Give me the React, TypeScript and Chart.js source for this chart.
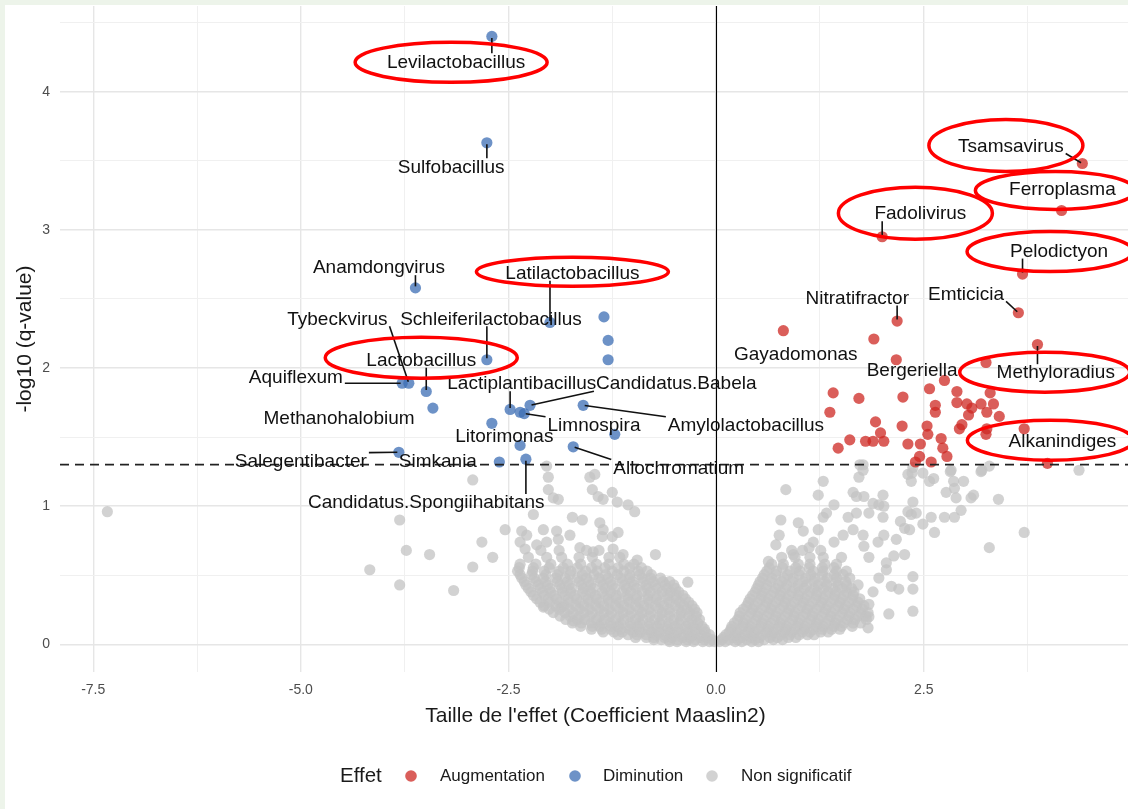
import { useEffect, useRef } from 'react';
import Chart from 'chart.js/auto';

const FONT = '"Liberation Sans", Arial, Helvetica, sans-serif';

// ---------- axes ----------
const xMajorTicks = [-7.5, -5, -2.5, 0, 2.5, 5];
const xMinorTicks = [-6.25, -3.75, -1.25, 1.25, 3.75];
const yMajorTicks = [0, 1, 2, 3, 4];
const yMinorTicks = [0.5, 1.5, 2.5, 3.5, 4.5];
const xRange = [-7.9, 4.96];
const yRange = [-0.2, 4.62];
const qThreshold = 1.301;

const xTitle = "Taille de l'effet (Coefficient Maaslin2)";
const yTitle = '-log10 (q-value)';
const legendTitle = 'Effet';
const legendNames = ['Augmentation', 'Diminution', 'Non significatif'];

// ---------- data ----------
const upPoints: [number, number][] = [
  [4.41, 3.48], [4.16, 3.14], [2.0, 2.95], [3.69, 2.68], [0.81, 2.27], [2.18, 2.34], [1.9, 2.21],
  [2.17, 2.06], [3.64, 2.4], [3.87, 2.17], [3.25, 2.04], [2.75, 1.91], [2.57, 1.85], [2.9, 1.83],
  [3.3, 1.82], [1.41, 1.82], [1.72, 1.78], [2.25, 1.79], [2.64, 1.73], [2.9, 1.75], [3.02, 1.74],
  [3.19, 1.74], [3.34, 1.74], [3.08, 1.71], [2.64, 1.68], [3.26, 1.68], [3.04, 1.66], [3.41, 1.65],
  [1.37, 1.68], [1.92, 1.61], [2.96, 1.59], [2.54, 1.58], [2.24, 1.58], [1.98, 1.53], [2.93, 1.56],
  [2.55, 1.52], [3.26, 1.56], [3.71, 1.56], [3.25, 1.52], [1.61, 1.48], [1.8, 1.47], [1.89, 1.47],
  [2.02, 1.47], [1.47, 1.42], [2.31, 1.45], [2.46, 1.45], [2.71, 1.49], [2.73, 1.42], [2.78, 1.36],
  [2.45, 1.36], [2.4, 1.32], [2.59, 1.32], [3.99, 1.31],
];

const downPoints: [number, number][] = [
  [-2.7, 4.4], [-2.76, 3.63], [-3.62, 2.58], [-2.0, 2.33], [-1.35, 2.37], [-1.3, 2.2], [-1.3, 2.06],
  [-2.76, 2.06], [-3.78, 1.89], [-3.7, 1.89], [-3.49, 1.83], [-3.41, 1.71], [-2.48, 1.7], [-2.36, 1.68],
  [-2.31, 1.67], [-2.24, 1.73], [-1.6, 1.73], [-2.7, 1.6], [-1.22, 1.52], [-2.36, 1.44], [-1.72, 1.43],
  [-3.82, 1.39], [-2.61, 1.32], [-2.29, 1.34],
];

const nsScatter: [number, number][] = [
  [-7.33, 0.96], [-3.81, 0.9], [-3.73, 0.68], [-3.45, 0.65], [-4.17, 0.54], [-3.81, 0.43], [-3.16, 0.39],
  [-2.93, 1.19], [-2.82, 0.74], [-2.93, 0.56], [-2.69, 0.63], [-2.54, 0.83], [-2.2, 0.94], [-2.02, 1.21],
  [-2.02, 1.12], [-1.96, 1.06], [-1.9, 1.05], [-1.52, 1.21], [-1.46, 1.23], [-1.49, 1.12], [-1.42, 1.07],
  [-1.36, 1.05], [-1.25, 1.1], [-1.19, 1.03], [-1.06, 1.01], [-0.98, 0.96], [-1.73, 0.92], [-1.61, 0.9],
  [-1.4, 0.88], [-1.36, 0.83], [-1.25, 0.78], [-1.18, 0.81], [-1.37, 0.78], [-1.76, 0.79], [-1.92, 0.82],
  [-2.08, 0.83], [-2.34, 0.82], [-2.28, 0.79], [-2.36, 0.74], [-2.3, 0.69], [-2.16, 0.72], [-2.04, 0.74],
  [-1.9, 0.76], [-1.64, 0.7], [-1.48, 0.67], [-1.24, 0.69], [-1.12, 0.65], [-0.95, 0.61], [-0.73, 0.65],
  [-2.08, 0.27], [-1.72, 0.17], [-1.86, 0.27], [-0.34, 0.45], [-2.04, 1.29],
  [4.37, 1.26], [3.71, 0.81], [3.29, 0.7], [3.4, 1.05], [3.1, 1.08], [3.07, 1.06], [3.19, 1.25],
  [3.29, 1.29], [2.98, 1.18], [2.86, 1.18], [2.87, 1.13], [2.77, 1.1], [2.89, 1.06], [2.95, 0.97],
  [2.87, 0.92], [2.75, 0.92], [2.63, 0.81], [2.59, 0.92], [2.49, 0.87], [2.57, 1.18], [2.62, 1.2],
  [2.37, 1.03], [2.31, 0.96], [2.41, 0.95], [2.35, 0.94], [2.22, 0.89], [2.27, 0.84], [2.33, 0.83],
  [2.31, 1.23], [2.35, 1.18], [2.49, 1.24], [2.37, 1.28], [2.83, 1.26], [2.27, 0.65], [2.37, 0.49],
  [2.37, 0.4], [2.2, 0.4], [2.37, 0.24], [2.08, 0.22], [2.14, 0.64], [2.05, 0.59], [2.01, 1.08],
  [1.96, 1.01], [2.02, 1.0], [1.89, 1.02], [1.84, 0.95], [2.01, 0.92], [1.78, 1.07], [1.65, 1.1],
  [1.69, 1.07], [1.72, 1.21], [1.77, 1.26], [1.77, 1.3], [1.42, 1.01], [1.29, 1.18], [1.23, 1.08],
  [0.84, 1.12], [0.78, 0.9], [0.99, 0.88], [1.05, 0.82], [0.76, 0.79], [0.72, 0.72], [0.63, 0.6],
  [1.29, 0.92], [1.33, 0.95], [1.23, 0.83], [1.59, 0.92], [1.69, 0.95], [1.65, 0.83], [1.77, 0.79],
  [1.53, 0.79], [1.42, 0.74], [1.17, 0.74], [1.12, 0.7], [0.93, 0.65], [1.78, 0.71], [1.95, 0.74],
  [2.02, 0.79], [2.17, 0.76], [1.84, 0.63], [2.05, 0.54], [1.96, 0.48], [2.11, 0.42], [1.89, 0.38],
  [1.84, 0.29], [1.84, 0.2], [1.83, 0.12], [1.73, 1.3], [2.36, 1.24], [2.82, 1.25], [3.2, 1.26],
];

// dense cloud near the origin, read row by row: [y, x values]
const nsLeftRows: [number, number[]][] = [
  [0.02, [-0.56, -0.47, -0.36, -0.27, -0.16, -0.08, -0.02]],
  [0.035, [-0.75, -0.66, -0.57, -0.46, -0.35, -0.25, -0.14, -0.05]],
  [0.05, [-0.97, -0.84, -0.75, -0.62, -0.53, -0.4, -0.31, -0.19, -0.11]],
  [0.07, [-1.18, -1.06, -0.95, -0.84, -0.73, -0.62, -0.51, -0.4, -0.29, -0.18, -0.08]],
  [0.09, [-1.36, -1.23, -1.13, -1.0, -0.91, -0.78, -0.69, -0.56, -0.47, -0.34, -0.25, -0.13]],
  [0.11, [-1.5, -1.38, -1.27, -1.15, -1.04, -0.92, -0.81, -0.69, -0.58, -0.46, -0.35, -0.24, -0.14]],
  [0.13, [-1.63, -1.49, -1.4, -1.26, -1.17, -1.03, -0.94, -0.81, -0.71, -0.58, -0.49, -0.36, -0.27, -0.17]],
  [0.155, [-1.73, -1.62, -1.5, -1.38, -1.27, -1.15, -1.03, -0.92, -0.8, -0.68, -0.57, -0.45, -0.33, -0.22]],
  [0.18, [-1.81, -1.67, -1.58, -1.44, -1.34, -1.21, -1.11, -0.97, -0.88, -0.74, -0.65, -0.51, -0.42, -0.29, -0.2]],
  [0.205, [-1.88, -1.76, -1.64, -1.52, -1.4, -1.28, -1.16, -1.04, -0.92, -0.8, -0.68, -0.56, -0.44, -0.33, -0.24]],
  [0.23, [-1.96, -1.82, -1.72, -1.59, -1.49, -1.35, -1.26, -1.12, -1.02, -0.89, -0.79, -0.65, -0.56, -0.42, -0.32, -0.23]],
  [0.255, [-2.01, -1.89, -1.77, -1.65, -1.53, -1.41, -1.29, -1.17, -1.05, -0.93, -0.81, -0.69, -0.57, -0.45, -0.35, -0.26]],
  [0.28, [-2.07, -1.93, -1.83, -1.69, -1.59, -1.45, -1.35, -1.21, -1.11, -0.97, -0.87, -0.73, -0.63, -0.49, -0.39, -0.29]],
  [0.305, [-2.12, -2.0, -1.88, -1.76, -1.64, -1.52, -1.4, -1.28, -1.16, -1.04, -0.92, -0.8, -0.68, -0.56, -0.44, -0.33]],
  [0.33, [-2.16, -2.02, -1.92, -1.78, -1.68, -1.54, -1.44, -1.3, -1.2, -1.06, -0.96, -0.82, -0.72, -0.58, -0.48, -0.37]],
  [0.355, [-2.2, -2.07, -1.95, -1.82, -1.7, -1.57, -1.45, -1.32, -1.2, -1.07, -0.95, -0.82, -0.7, -0.58, -0.48, -0.4]],
  [0.38, [-2.23, -2.09, -1.99, -1.85, -1.75, -1.61, -1.51, -1.37, -1.27, -1.13, -1.03, -0.89, -0.79, -0.65, -0.55, -0.45]],
  [0.405, [-2.26, -2.12, -2.0, -1.86, -1.74, -1.6, -1.48, -1.34, -1.22, -1.08, -0.96, -0.83, -0.71, -0.59, -0.49]],
  [0.43, [-2.29, -2.14, -2.03, -1.88, -1.77, -1.62, -1.51, -1.36, -1.25, -1.1, -0.99, -0.84, -0.73, -0.61, -0.51]],
  [0.455, [-2.31, -2.17, -2.05, -1.91, -1.79, -1.65, -1.53, -1.39, -1.27, -1.13, -1.01, -0.88, -0.76, -0.64, -0.56]],
  [0.48, [-2.34, -2.19, -2.08, -1.93, -1.82, -1.67, -1.56, -1.41, -1.3, -1.15, -1.04, -0.89, -0.79, -0.67]],
  [0.505, [-2.36, -2.22, -2.05, -1.91, -1.76, -1.61, -1.47, -1.33, -1.19, -1.04, -0.92, -0.78]],
  [0.53, [-2.39, -2.21, -2.07, -1.89, -1.75, -1.57, -1.43, -1.25, -1.11, -0.94, -0.83]],
  [0.555, [-2.37, -2.2, -2.01, -1.84, -1.67, -1.5, -1.34, -1.18, -1.04, -0.9]],
  [0.58, [-2.36, -2.17, -1.99, -1.79, -1.63, -1.44, -1.29, -1.11, -0.99]],
  [0.63, [-2.26, -2.04, -1.86, -1.65, -1.49, -1.29, -1.16]],
  [0.68, [-2.11, -1.89, -1.56, -1.41]],
];

const nsRightRows: [number, number[]][] = [
  [0.02, [0.04, 0.11, 0.23, 0.31, 0.43, 0.51]],
  [0.035, [0.07, 0.16, 0.26, 0.37, 0.47, 0.58, 0.69, 0.8]],
  [0.05, [0.09, 0.21, 0.3, 0.43, 0.52, 0.65, 0.74, 0.87, 0.96]],
  [0.07, [0.12, 0.23, 0.34, 0.45, 0.56, 0.67, 0.78, 0.89, 1.0, 1.1, 1.18]],
  [0.09, [0.16, 0.25, 0.38, 0.47, 0.6, 0.69, 0.82, 0.91, 1.04, 1.13, 1.26, 1.35]],
  [0.11, [0.18, 0.29, 0.4, 0.51, 0.62, 0.73, 0.84, 0.95, 1.06, 1.17, 1.28, 1.39, 1.49]],
  [0.13, [0.19, 0.32, 0.41, 0.54, 0.63, 0.76, 0.85, 0.98, 1.07, 1.2, 1.29, 1.42, 1.51, 1.64]],
  [0.155, [0.22, 0.33, 0.44, 0.55, 0.66, 0.77, 0.88, 0.99, 1.1, 1.21, 1.32, 1.43, 1.54, 1.65, 1.74]],
  [0.18, [0.26, 0.35, 0.48, 0.57, 0.7, 0.79, 0.92, 1.01, 1.14, 1.23, 1.36, 1.45, 1.58, 1.67, 1.81]],
  [0.205, [0.28, 0.39, 0.5, 0.61, 0.72, 0.83, 0.94, 1.05, 1.16, 1.27, 1.38, 1.49, 1.6, 1.71, 1.8]],
  [0.23, [0.29, 0.42, 0.51, 0.64, 0.73, 0.86, 0.95, 1.08, 1.17, 1.3, 1.39, 1.52, 1.61, 1.74, 1.83]],
  [0.255, [0.33, 0.44, 0.55, 0.66, 0.77, 0.88, 0.99, 1.1, 1.21, 1.32, 1.43, 1.54, 1.65, 1.76]],
  [0.28, [0.37, 0.46, 0.59, 0.68, 0.81, 0.9, 1.03, 1.12, 1.25, 1.34, 1.47, 1.56, 1.69, 1.78]],
  [0.305, [0.39, 0.5, 0.61, 0.72, 0.83, 0.94, 1.05, 1.16, 1.27, 1.38, 1.49, 1.6, 1.71]],
  [0.33, [0.41, 0.54, 0.63, 0.76, 0.85, 0.98, 1.07, 1.2, 1.29, 1.42, 1.51, 1.64, 1.73]],
  [0.355, [0.44, 0.55, 0.66, 0.77, 0.88, 0.99, 1.1, 1.21, 1.32, 1.43, 1.54, 1.65]],
  [0.38, [0.47, 0.56, 0.69, 0.78, 0.91, 1.0, 1.13, 1.22, 1.35, 1.44, 1.57, 1.66]],
  [0.405, [0.49, 0.6, 0.72, 0.83, 0.95, 1.06, 1.18, 1.29, 1.41, 1.52, 1.63]],
  [0.43, [0.51, 0.61, 0.75, 0.85, 0.99, 1.09, 1.23, 1.33, 1.47, 1.57, 1.71]],
  [0.455, [0.53, 0.66, 0.79, 0.92, 1.05, 1.18, 1.31, 1.44, 1.56]],
  [0.48, [0.56, 0.67, 0.82, 0.93, 1.08, 1.19, 1.34, 1.45, 1.61]],
  [0.505, [0.58, 0.72, 0.86, 1.0, 1.14, 1.28, 1.42, 1.53]],
  [0.53, [0.61, 0.73, 0.89, 1.01, 1.17, 1.29, 1.45, 1.57]],
  [0.555, [0.64, 0.8, 0.96, 1.12, 1.28, 1.42]],
  [0.58, [0.67, 0.81, 0.99, 1.13, 1.31, 1.45]],
  [0.63, [0.79, 0.95, 1.13, 1.29, 1.51]],
  [0.68, [0.91, 1.04, 1.26]],
];

// labelled genera: point (x, y) and label centre (lx, ly), in data units
type GeneLabel = { name: string; x: number; y: number; lx: number; ly: number; seg: boolean };
const geneLabels: GeneLabel[] = [
  { name: 'Levilactobacillus', x: -2.7, y: 4.4, lx: -3.13, ly: 4.22, seg: true },
  { name: 'Sulfobacillus', x: -2.76, y: 3.63, lx: -3.19, ly: 3.46, seg: true },
  { name: 'Anamdongvirus', x: -3.62, y: 2.58, lx: -4.06, ly: 2.73, seg: true },
  { name: 'Latilactobacillus', x: -2.0, y: 2.33, lx: -1.73, ly: 2.69, seg: true },
  { name: 'Schleiferilactobacillus', x: -2.76, y: 2.06, lx: -2.71, ly: 2.36, seg: true },
  { name: 'Tybeckvirus', x: -3.7, y: 1.89, lx: -4.56, ly: 2.36, seg: true },
  { name: 'Lactobacillus', x: -3.49, y: 1.83, lx: -3.55, ly: 2.06, seg: true },
  { name: 'Aquiflexum', x: -3.78, y: 1.89, lx: -5.06, ly: 1.94, seg: true },
  { name: 'Methanohalobium', x: -3.41, y: 1.71, lx: -4.54, ly: 1.64, seg: false },
  { name: 'Lactiplantibacillus', x: -2.48, y: 1.7, lx: -2.34, ly: 1.89, seg: true },
  { name: 'Candidatus.Babela', x: -2.24, y: 1.73, lx: -0.48, ly: 1.89, seg: true },
  { name: 'Limnospira', x: -2.31, y: 1.67, lx: -1.47, ly: 1.59, seg: true },
  { name: 'Amylolactobacillus', x: -1.6, y: 1.73, lx: 0.36, ly: 1.59, seg: true },
  { name: 'Litorimonas', x: -2.36, y: 1.44, lx: -2.55, ly: 1.51, seg: false },
  { name: 'Allochromatium', x: -1.72, y: 1.43, lx: -0.45, ly: 1.28, seg: true },
  { name: 'Salegentibacter', x: -3.82, y: 1.39, lx: -5.0, ly: 1.33, seg: true },
  { name: 'Simkania', x: -2.61, y: 1.32, lx: -3.35, ly: 1.33, seg: false },
  { name: 'Candidatus.Spongiihabitans', x: -2.29, y: 1.34, lx: -3.49, ly: 1.03, seg: true },
  { name: 'Tsamsavirus', x: 4.41, y: 3.48, lx: 3.55, ly: 3.61, seg: true },
  { name: 'Ferroplasma', x: 4.16, y: 3.14, lx: 4.17, ly: 3.3, seg: false },
  { name: 'Fadolivirus', x: 2.0, y: 2.95, lx: 2.46, ly: 3.12, seg: true },
  { name: 'Pelodictyon', x: 3.69, y: 2.68, lx: 4.13, ly: 2.85, seg: true },
  { name: 'Nitratifractor', x: 2.18, y: 2.34, lx: 1.7, ly: 2.51, seg: true },
  { name: 'Emticicia', x: 3.64, y: 2.4, lx: 3.01, ly: 2.54, seg: true },
  { name: 'Gayadomonas', x: 0.81, y: 2.27, lx: 0.96, ly: 2.1, seg: false },
  { name: 'Bergeriella', x: 2.17, y: 2.06, lx: 2.36, ly: 1.99, seg: false },
  { name: 'Methyloradius', x: 3.87, y: 2.17, lx: 4.09, ly: 1.97, seg: true },
  { name: 'Alkanindiges', x: 3.71, y: 1.56, lx: 4.17, ly: 1.47, seg: false },
];

// hand-drawn red ellipses (offset from the label centre, in px)
const circled = [
  { name: 'Levilactobacillus', dx: -5, dy: 1, rx: 96, ry: 20 },
  { name: 'Latilactobacillus', dx: 0, dy: -1, rx: 96, ry: 14.5 },
  { name: 'Lactobacillus', dx: 0, dy: -2, rx: 96, ry: 20.5 },
  { name: 'Tsamsavirus', dx: -5, dy: 0, rx: 77, ry: 26 },
  { name: 'Ferroplasma', dx: -7, dy: 2, rx: 80, ry: 19 },
  { name: 'Fadolivirus', dx: -5, dy: 0, rx: 77, ry: 26 },
  { name: 'Pelodictyon', dx: -9, dy: 1, rx: 83, ry: 20 },
  { name: 'Methyloradius', dx: -11, dy: 0, rx: 85, ry: 20 },
  { name: 'Alkanindiges', dx: -12, dy: -1, rx: 83, ry: 20 },
];

const RED = 'rgba(205, 40, 35, 0.75)';
const BLUE = 'rgba(60, 110, 180, 0.75)';
const GREY = 'rgba(195, 195, 195, 0.75)';

const toXY = (arr: [number, number][]) => arr.map(([x, y]) => ({ x, y }));
const rowsToXY = (rows: [number, number[]][]) =>
  rows.flatMap(([y, xs]) => xs.map((x) => ({ x, y })));

const isMajorX = (v: number) => xMajorTicks.some((t) => Math.abs(t - v) < 1e-6);
const isMajorY = (v: number) => yMajorTicks.some((t) => Math.abs(t - v) < 1e-6);

export default function App() {
  const ref = useRef<HTMLCanvasElement>(null);

  useEffect(() => {
    document.body.style.margin = '0';
    const canvas = ref.current!;
    const W = 1128;
    const H = 809;

    const background = {
      id: 'background',
      beforeDraw(chart: any) {
        const c = chart.ctx;
        c.save();
        c.fillStyle = '#edf4ea';
        c.fillRect(0, 0, W, H);
        c.fillStyle = '#ffffff';
        c.fillRect(5, 5, W - 5, H - 5);
        c.restore();
      },
    };

    const overlay = {
      id: 'overlay',
      afterDatasetsDraw(chart: any) {
        const c = chart.ctx;
        const xs = chart.scales.x;
        const ys = chart.scales.y;
        const area = chart.chartArea;
        c.save();
        // vertical line at 0
        c.strokeStyle = '#000';
        c.lineWidth = 1.1;
        c.beginPath();
        const x0 = Math.round(xs.getPixelForValue(0)) + 0.5;
        c.moveTo(x0, area.top);
        c.lineTo(x0, area.bottom);
        c.stroke();
        // significance threshold
        c.strokeStyle = '#222';
        c.lineWidth = 1.8;
        c.setLineDash([9, 6]);
        const yq = ys.getPixelForValue(qThreshold);
        c.beginPath();
        c.moveTo(area.left, yq);
        c.lineTo(area.right, yq);
        c.stroke();
        c.setLineDash([]);

        // labels + segments
        c.font = `19px ${FONT}`;
        c.textAlign = 'center';
        c.textBaseline = 'middle';
        const boxes: Record<string, { cx: number; cy: number }> = {};
        geneLabels.forEach((g) => {
          const px = xs.getPixelForValue(g.x);
          const py = ys.getPixelForValue(g.y);
          const cx = xs.getPixelForValue(g.lx);
          const cy = ys.getPixelForValue(g.ly);
          boxes[g.name] = { cx, cy };
          const w = c.measureText(g.name).width;
          if (g.seg) {
            const l = cx - w / 2 - 2;
            const r = cx + w / 2 + 2;
            const t = cy - 8;
            const b = cy + 8;
            const sx = Math.min(Math.max(px, l), r);
            const sy = Math.min(Math.max(py, t), b);
            const d = Math.hypot(px - sx, py - sy);
            if (d > 6) {
              const ex = px - ((px - sx) / d) * 1.5;
              const ey = py - ((py - sy) / d) * 1.5;
              c.strokeStyle = '#111';
              c.lineWidth = 1.6;
              c.beginPath();
              c.moveTo(sx, sy);
              c.lineTo(ex, ey);
              c.stroke();
            }
          }
        });
        c.fillStyle = '#111';
        geneLabels.forEach((g) => {
          const { cx, cy } = boxes[g.name];
          c.fillText(g.name, cx, cy + 1);
        });

        // red ellipses
        c.strokeStyle = '#ff0000';
        c.lineWidth = 3.5;
        circled.forEach((e) => {
          const b = boxes[e.name];
          if (!b) return;
          c.beginPath();
          c.ellipse(b.cx + e.dx, b.cy + e.dy, e.rx, e.ry, 0, 0, Math.PI * 2);
          c.stroke();
        });
        c.restore();
      },
      afterDraw(chart: any) {
        const c = chart.ctx;
        const area = chart.chartArea;
        c.save();
        c.fillStyle = '#1a1a1a';
        c.textBaseline = 'middle';
        // axis titles
        c.font = `21px ${FONT}`;
        c.textAlign = 'center';
        c.fillText(xTitle, (area.left + 1131) / 2, 716);
        c.save();
        c.translate(25, (area.top + area.bottom) / 2);
        c.rotate(-Math.PI / 2);
        c.fillText(yTitle, 0, 0);
        c.restore();
        // legend
        const ly = 776;
        c.textAlign = 'left';
        c.font = `20.5px ${FONT}`;
        c.fillText(legendTitle, 340, ly);
        c.font = `17px ${FONT}`;
        const cols = [RED, BLUE, GREY];
        const dotX = [411, 575, 712];
        const txtX = [440, 603, 741];
        legendNames.forEach((n, i) => {
          c.fillStyle = cols[i];
          c.beginPath();
          c.arc(dotX[i], ly, 5.8, 0, Math.PI * 2);
          c.fill();
          c.fillStyle = '#1a1a1a';
          c.fillText(n, txtX[i], ly);
        });
        c.restore();
      },
    };

    const chart = new Chart(canvas, {
      type: 'scatter',
      data: {
        datasets: [
          { label: legendNames[0], data: toXY(upPoints), backgroundColor: RED, pointRadius: 5.6, borderWidth: 0 },
          { label: legendNames[1], data: toXY(downPoints), backgroundColor: BLUE, pointRadius: 5.6, borderWidth: 0 },
          {
            label: legendNames[2],
            data: [...toXY(nsScatter), ...rowsToXY(nsLeftRows), ...rowsToXY(nsRightRows)],
            backgroundColor: GREY,
            pointRadius: 5.6,
            borderWidth: 0,
          },
        ],
      },
      options: {
        animation: false,
        responsive: false,
        events: [],
        layout: { autoPadding: false, padding: { left: 0, right: 0, top: 6, bottom: 97 } },
        plugins: { legend: { display: false }, tooltip: { enabled: false } },
        scales: {
          x: {
            type: 'linear',
            min: xRange[0],
            max: xRange[1],
            afterBuildTicks: (s: any) => {
              s.ticks = [...xMajorTicks, ...xMinorTicks]
                .filter((v) => v >= s.min && v <= s.max)
                .sort((a, b) => a - b)
                .map((v) => ({ value: v }));
            },
            afterFit: (s: any) => {
              s.height = 40;
              s.paddingLeft = 0;
              s.paddingRight = 0;
            },
            border: { display: false },
            grid: {
              drawTicks: false,
              color: (ctx: any) => (ctx.tick && isMajorX(ctx.tick.value) ? '#e6e6e6' : '#f0f0f0'),
              lineWidth: (ctx: any) => (ctx.tick && isMajorX(ctx.tick.value) ? 1.4 : 1),
            },
            ticks: {
              autoSkip: false,
              maxRotation: 0,
              padding: 10,
              color: '#4d4d4d',
              font: { family: FONT, size: 14 },
              callback: (v: any) => (isMajorX(Number(v)) ? Number(v).toFixed(1) : ''),
            },
          },
          y: {
            type: 'linear',
            min: yRange[0],
            max: yRange[1],
            afterBuildTicks: (s: any) => {
              s.ticks = [...yMajorTicks, ...yMinorTicks]
                .filter((v) => v >= s.min && v <= s.max)
                .sort((a, b) => a - b)
                .map((v) => ({ value: v }));
            },
            afterFit: (s: any) => {
              s.width = 60;
              s.paddingTop = 0;
              s.paddingBottom = 0;
            },
            border: { display: false },
            grid: {
              drawTicks: false,
              color: (ctx: any) => (ctx.tick && isMajorY(ctx.tick.value) ? '#e6e6e6' : '#f0f0f0'),
              lineWidth: (ctx: any) => (ctx.tick && isMajorY(ctx.tick.value) ? 1.4 : 1),
            },
            ticks: {
              autoSkip: false,
              padding: 10,
              color: '#4d4d4d',
              font: { family: FONT, size: 14 },
              callback: (v: any) => (isMajorY(Number(v)) ? String(Number(v)) : ''),
            },
          },
        },
      },
      plugins: [background, overlay],
    } as any);

    return () => chart.destroy();
  }, []);

  return <canvas ref={ref} width={1128} height={809} style={{ display: 'block' }} />;
}
